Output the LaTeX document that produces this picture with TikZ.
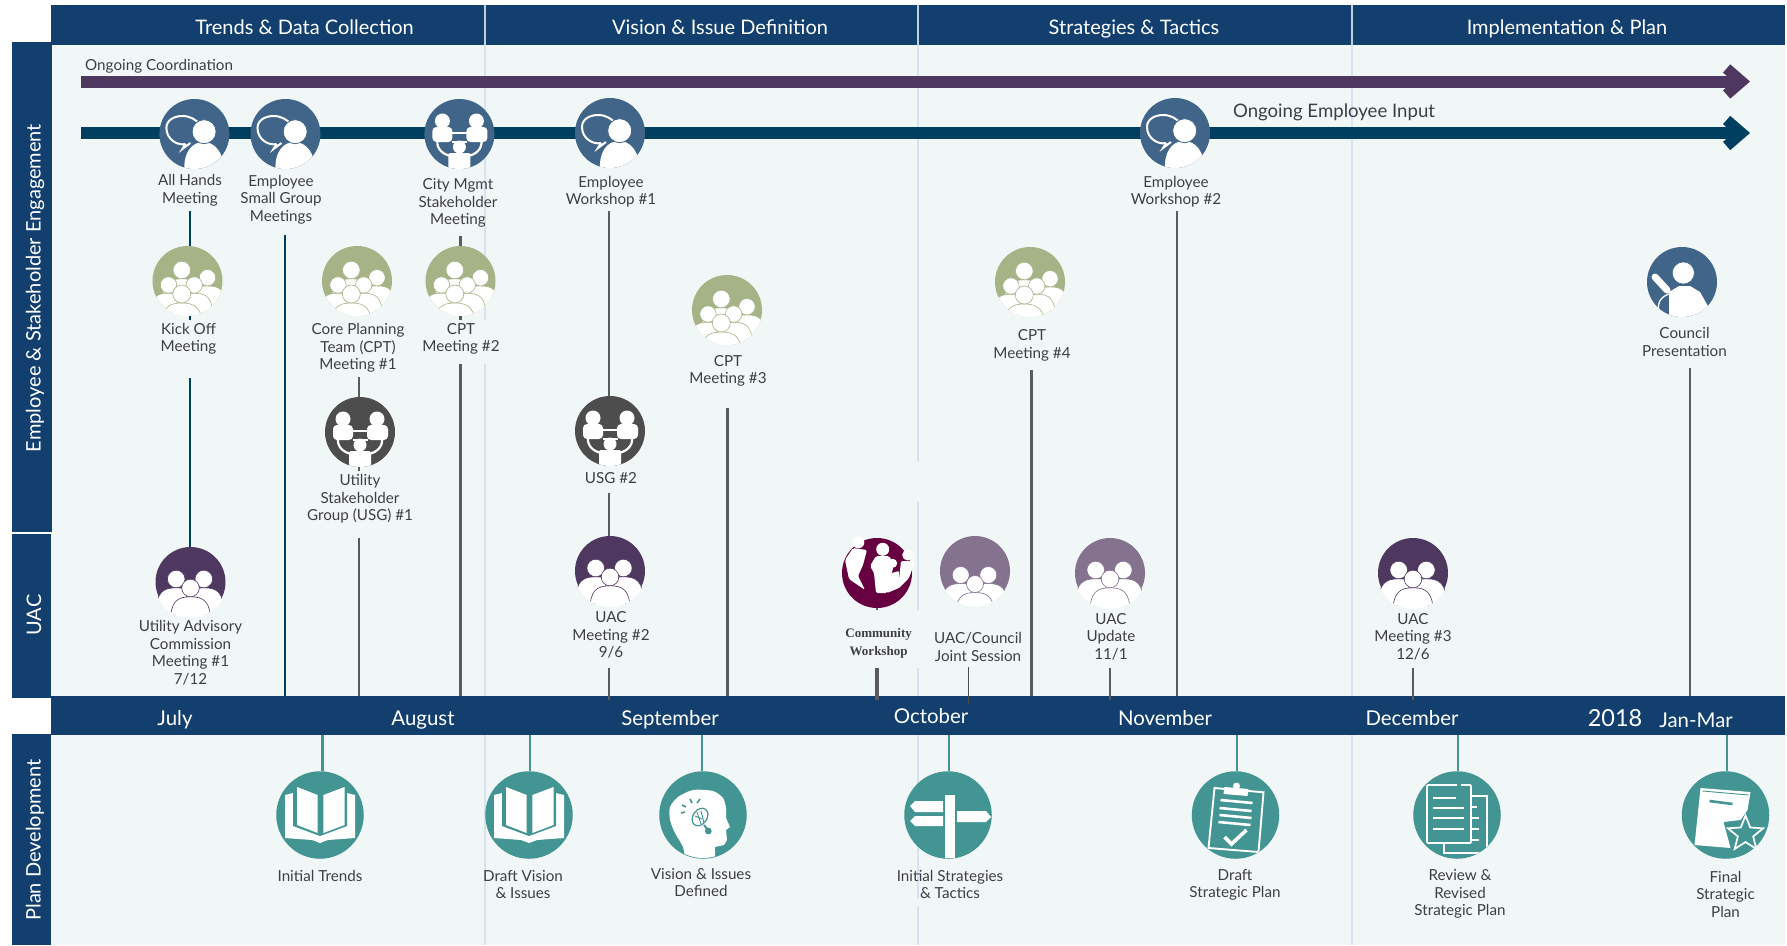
\documentclass[tikz,border=0pt]{standalone}
\usepackage{fontspec}
\setmainfont{Lato}
\newfontfamily\serifb{Liberation Serif}
\usetikzlibrary{shapes.geometric,arrows.meta,calc}
\definecolor{navy}{HTML}{123F6D}
\definecolor{bgc}{HTML}{F1F7F7}
\definecolor{purp}{HTML}{4F3860}
\definecolor{dblue}{HTML}{003F5F}
\definecolor{cblue}{HTML}{406589}
\definecolor{cgreen}{HTML}{A6B387}
\definecolor{cgray}{HTML}{4D4D4D}
\definecolor{lpurp}{HTML}{84728F}
\definecolor{tealc}{HTML}{429592}
\definecolor{maroon}{HTML}{660040}
\definecolor{txt}{HTML}{3E3E46}
\definecolor{divc}{HTML}{D5E4EE}
\tikzset{
  dot/.style={circle,inner sep=0pt,minimum size=#1,draw=none},
  lbl/.style={align=center,text=txt,inner sep=0pt,font=\fontsize{15.2}{17.5}\selectfont},
  wtitle/.style={text=white,inner sep=0pt,font=\fontsize{20}{23}\selectfont},
  month/.style={text=white,inner sep=0pt,anchor=base,font=\fontsize{20.4}{23}\selectfont},
  band/.style={fill=navy,inner sep=0pt,draw=none},
  divl/.style={draw=divc,line width=1.4pt},
  lnkb/.style={draw=dblue,line width=2.6pt},
  lnkg/.style={draw=cgray!92!white,line width=2.6pt},
  lnkt/.style={draw=tealc,line width=2.8pt},
  bigarrow/.style={line width=12pt,-{Straight Barb[length=15pt,width=26pt,line width=11pt]}},
  ic/.style={fill=white,draw=none},
  icl/.style={draw=white,line width=1.8pt,fill=none},
}
% person: x y headradius colour
\newcommand\pers[4]{%
  \path[fill=white,draw=#4,line width=.6pt] ({#1-2.3*#3},{#2+4*#3}) .. controls ({#1-2.3*#3},{#2+1.5*#3}) and ({#1-1.5*#3},{#2+1*#3}) .. ({#1},{#2+1*#3}) .. controls ({#1+1.5*#3},{#2+1*#3}) and ({#1+2.3*#3},{#2+1.5*#3}) .. ({#1+2.3*#3},{#2+4*#3}) -- cycle;
  \path[fill=white,draw=#4,line width=.6pt] (#1,#2) circle[radius=#3pt];
}
\newcommand\icGroup[2]{\begin{scope}[shift={(#1)}]
  \clip (0,0) circle[radius=35pt];
  \pers{-5.7}{-11}{8.8}{#2}\pers{20}{-3.3}{8.2}{#2}\pers{-19}{4}{8.2}{#2}\pers{6.7}{4}{8.2}{#2}\pers{-5.7}{13}{9}{#2}
\end{scope}}
\newcommand\icThree[2]{\begin{scope}[shift={(#1)}]
  \clip (0,0) circle[radius=36pt];
  \pers{-14.3}{-3}{8.8}{#2}\pers{13.3}{-3}{8.8}{#2}\pers{0}{6}{8.8}{#2}
\end{scope}}
\newcommand\icThreeLow[2]{\begin{scope}[shift={(#1)}]
  \clip (0,0) circle[radius=35.5pt];
  \pers{-14.3}{4}{8.5}{#2}\pers{13.3}{4}{8.5}{#2}\pers{0}{13}{8.5}{#2}
\end{scope}}
\newcommand\icSpeech[1]{\begin{scope}[shift={(#1)}]
  \clip (0,0) circle[radius=35pt];
  \draw[icl,line width=2pt] (-9,10) .. controls (-16,12) and (-28,6) .. (-28,-6) .. controls (-28,-14) and (-20,-18) .. (-12,-18) .. controls (-4,-18) and (2,-14) .. (5,-10);
  \draw[icl,line width=2pt] (-9,10) -- (-12,15) -- (-4,9);
  \path[ic] (-10,36) .. controls (-11,19) and (-3,8) .. (9,8) .. controls (21,8) and (29,19) .. (30,36) -- cycle;
  \path[fill=white,draw=cblue,line width=.8pt] (9.7,-2.3) circle[radius=12pt];
\end{scope}}
\newcommand\icTable[2]{\begin{scope}[shift={(#1)}]
  \clip (0,0) circle[radius=35pt];
  \draw[icl,line width=2.2pt] (-8,-1) -- (8,-1) (-7,8) -- (8,8);
  \draw[icl,line width=2.2pt] (-22,7) .. controls (-23,15) and (-16,21) .. (-8,22);
  \draw[icl,line width=2.2pt] (22,7) .. controls (23,15) and (16,21) .. (8,22);
  \path[ic,rounded corners=4pt] (-27,8) -- (-27,-7) -- (-7,-7) -- (-7,8) -- cycle;
  \path[ic,rounded corners=4pt] (7,8) -- (7,-7) -- (28,-7) -- (28,8) -- cycle;
  \path[ic,rounded corners=2pt] (-11,36) -- (-11,19) -- (11,19) -- (11,36) -- cycle;
  \path[ic] (-17,-13) circle[radius=7.5pt] (17,-13) circle[radius=7.5pt] (0,13) circle[radius=6.5pt];
\end{scope}}
\newcommand\icBook[1]{\begin{scope}[shift={(#1)}]
  \path[ic] (-35,-20) -- (-27,-22) -- (0,20) -- (27,-22) -- (35,-20) -- (35,23) -- (8,25) -- (0,28) -- (-8,25) -- (-35,23) -- cycle;
  \path[fill=tealc] (-27,-24) -- (0,-24) -- (27,-24) -- (27,11) -- (0,21) -- (-27,11) -- cycle;
  \path[ic] (-23,-28) -- (-2.3,-20) -- (-2.3,18) -- (-23,10) -- cycle;
  \path[ic] (24.5,-28) -- (3.4,-20) -- (3.4,18) -- (24.5,10) -- cycle;
\end{scope}}
\newcommand\icHead[1]{\begin{scope}[shift={(#1)}]
  \clip (0,0) circle[radius=43pt];
  \path[ic] plot[smooth,tension=.45] coordinates {(-18,44) (-20,32) (-28,18) (-33,5) (-33,-8) (-25,-18) (-10,-25) (10,-24) (20,-17) (23,-7) (23,3)} -- (27,12) -- (23,15) -- (24,25) -- (21,30) -- (12,32) -- (12,44) -- cycle;
  \draw[tealc,line width=1.2pt,rotate around={-35:(-3,2)}] (-3,2) ellipse[x radius=7pt,y radius=9.5pt];
  \draw[tealc,line width=.9pt] (-6,-3) -- (-2,9) (-2,-4) -- (1,8) (-8,1) -- (-1,4);
  \draw[tealc,line width=2pt] (1,10) -- (4,14);
  \fill[tealc] (5.3,16) circle[radius=3.4pt];
  \draw[tealc,line width=1.6pt] (-21,-10) -- (-17,-8) (-13,-16) -- (-11,-12) (-3,-16) -- (-6,-12) (-22,-2) -- (-18,-3);
\end{scope}}
\newcommand\icSign[1]{\begin{scope}[shift={(#1)}]
  \path[ic] (-3.3,43) -- (-3.3,-20) -- (7.3,-20) -- (7.3,43) -- cycle;
  \path[ic] (-38,-9) -- (-33,-14) -- (-5,-14) -- (-5,-3) -- (-33,-3) -- cycle;
  \path[ic] (-38,6) -- (-33,1) -- (-5,1) -- (-5,11) -- (-33,11) -- cycle;
  \path[ic] (9,-4) -- (38,-4) -- (43,2) -- (38,7) -- (9,7) -- cycle;
\end{scope}}
\newcommand\icClip[1]{\begin{scope}[shift={(#1)}]
  \clip (0,0) circle[radius=43.5pt];
  \draw[icl,line width=1.9pt] (-21,-27) -- (28,-22.7) -- (23,37) -- (-27,33) -- cycle;
  \path[ic] (-11,-28) -- (13,-26) -- (12,-19) -- (-12,-21) -- cycle;
  \path[ic] (1,-29) circle[radius=3.5pt];
  \draw[white,line width=2.6pt] (-15,-15) -- (17,-12) (-16,-7) -- (16,-4) (-16,0) -- (16,3) (-17,7) -- (15,10);
  \draw[white,line width=3.6pt] (-11,22) -- (-4,29) -- (11,15);
\end{scope}}
\newcommand\icDocs[1]{\begin{scope}[shift={(#1)}]
  \clip (0,0) circle[radius=43.5pt];
  \draw[icl] (14,-19) -- (30,-19) -- (30,38) -- (-13,38) -- (-13,28);
  \draw[icl] (14,-8) -- (20,-8) (14,3) -- (22,3) (14,14) -- (22,14) (14,25) -- (22,25);
  \draw[icl,rounded corners=1pt] (0,-30) -- (-30,-30) -- (-30,28) -- (14,28) -- (14,-30) -- (4,-30);
  \draw[white,line width=2.6pt] (-24,-17) -- (-1,-17) (-24,-7) -- (7,-7) (-24,3) -- (7,3) (-24,14) -- (7,14);
\end{scope}}
\newcommand\icFinal[1]{\begin{scope}[shift={(#1)}]
  \path[ic] (-25,-27) -- (25,-23) -- (22,-5) -- (15,5) -- (-2,7) -- (5,33) -- (-31,30) -- cycle;
  \draw[tealc,line width=.9pt] (-23,-24) -- (23,-20);
  \draw[tealc,line width=2.6pt] (-16,-14) -- (7,-11);
  \node[star,star points=5,star point ratio=2.3,minimum size=37pt,inner sep=0pt,draw=white,fill=tealc,line width=1.7pt] (finalstar) at (20,19) {};
\end{scope}}
\newcommand\icCouncil[1]{\begin{scope}[shift={(#1)}]
  \clip (0,0) circle[radius=35pt];
  \draw[white,line width=7pt,line cap=round] (-27,-5) -- (-15,8);
  \draw[white,line width=1.3pt] (-13,12) .. controls (-22,15) and (-26,22) .. (-22,32);
  \path[ic] (-13,36) -- (-13,10) -- (-3,4) -- (8,4) -- (18,10) -- (27,26) -- (20,36) -- cycle;
  \path[fill=white,draw=cblue,line width=.5pt] (1.3,-9) circle[radius=11pt];
\end{scope}}
\newcommand\icCommunity[1]{\begin{scope}[shift={(#1)}]
  \path[ic] (-18.7,-30.7) circle[radius=6pt] (5.7,-23.7) circle[radius=6.5pt] (15.7,-9.7) circle[radius=4.5pt] (30.7,-18) circle[radius=5.5pt];
  \path[ic,rounded corners=1.5pt] (-24,-25) -- (-10,-23) -- (-14,-8) -- (-19,3) -- (-12,17) -- (-28,6) -- (-32,-13) -- cycle;
  \path[ic,rounded corners=1.5pt] (-7,-7) -- (-1,-17) -- (12,-17) -- (17,-9) -- (10,20) -- (-1,20) -- (-3,0) -- cycle;
  \path[ic,rounded corners=1pt] (8,2) -- (22,-2) -- (22,15) -- (10,20) -- cycle;
  \path[ic,rounded corners=1.5pt] (24,-12) -- (38,-12) -- (32,5) -- (21,16) -- cycle;
\end{scope}}
\begin{document}
\begin{tikzpicture}[x=1pt,y=-1pt]
\useasboundingbox (0,0) rectangle (1787,945);
\fill[white] (0,0) rectangle (1787,945);
% panel
\fill[bgc] (51,45) rectangle (1785,945);
% dividers
\draw[divl] (485,45) -- (485,320) (485,364) -- (485,945);
\draw[divl] (918,45) -- (918,462) (918,502) -- (918,610) (918,668) -- (918,899) (918,906) -- (918,945);
\draw[divl] (1352,45) -- (1352,945);
% header band
\node[band,minimum width=1734pt,minimum height=40pt] (hdr) at (918,25) {};
\draw[white,opacity=.75,line width=1.2pt] (485,5) -- (485,45) (918,5) -- (918,45) (1352,5) -- (1352,45);
\node[wtitle,anchor=base] (h1) at (304.6,34.3) {Trends \& Data Collection};
\node[wtitle,anchor=base] (h2) at (720,34.3) {Vision \& Issue Definition};
\node[wtitle,anchor=base] (h3) at (1134,34.3) {Strategies \& Tactics};
\node[wtitle,anchor=base] (h4) at (1567,34.3) {Implementation \& Plan};
% side bands
\node[band,minimum width=40.5pt,minimum height=490pt] (s1) at (31.75,287) {};
\node[band,minimum width=39.5pt,minimum height=164pt] (s2) at (31.25,615.5) {};
\node[band,minimum width=39.5pt,minimum height=211pt] (s3) at (31.25,839.5) {};
\node[wtitle,rotate=90] (s1t) at (35,288) {Employee \& Stakeholder Engagement};
\node[wtitle,rotate=90] (s2t) at (34,615) {UAC};
\node[wtitle,rotate=90] (s3t) at (35,840) {Plan Development};
% months band
\node[band,minimum width=1734pt,minimum height=39pt] (mbar) at (918,715.5) {};
\node[month] (m1) at (175,725) {July};
\node[month] (m2) at (423,725) {August};
\node[month] (m3) at (670,725) {September};
\node[month] (m4) at (931,723.5) {October};
\node[month] (m5) at (1165,725) {November};
\node[month] (m6) at (1412,725.5) {December};
\node[month,font=\fontsize{23.5}{26}\selectfont] (m7) at (1615,726.7) {2018};
\node[month] (m8) at (1696,727.7) {Jan-Mar};
% long arrows
\coordinate (ca) at (81,81.5); \coordinate (cb) at (1750,81.5);
\coordinate (ea) at (81,133); \coordinate (eb) at (1750,133);
\draw[purp,bigarrow] (ca) -- (cb);
\draw[dblue,bigarrow] (ea) -- (eb);
\node[lbl,anchor=west] (oc) at (85,66) {Ongoing Coordination};
\node[lbl,font=\fontsize{18.6}{21}\selectfont] (oe) at (1334,112.5) {Ongoing Employee Input};
% circles
\tikzset{r35/.style={dot=70pt},r43/.style={dot=87.5pt}}
\node[r35,fill=cblue] (ah) at (194.4,134) {};
\node[r35,fill=cblue] (es) at (285.5,134) {};
\node[r35,fill=cblue] (cm) at (459.4,134) {};
\node[r35,fill=cblue] (ew1) at (610,133) {};
\node[r35,fill=cblue] (ew2) at (1175,133) {};
\node[r35,fill=cgreen] (ko) at (187.5,281) {};
\node[r35,fill=cgreen] (cpt1) at (357,281) {};
\node[r35,fill=cgreen] (cpt2) at (460.5,281) {};
\node[r35,fill=cgreen] (cpt3) at (727,310) {};
\node[r35,fill=cgreen] (cpt4) at (1030,282) {};
\node[r35,fill=cblue] (cp) at (1682,282) {};
\node[r35,fill=cgray] (usg1) at (360,432) {};
\node[r35,fill=cgray] (usg2) at (610,431) {};
\node[r35,fill=purp] (uac1) at (190.5,582) {};
\node[r35,fill=purp] (uac2) at (610,571) {};
\node[r35,fill=purp] (uac3) at (1413,573) {};
\node[r35,fill=maroon] (cw) at (877,573) {};
\node[r35,fill=lpurp] (jt) at (975,571) {};
\node[r35,fill=lpurp] (up) at (1110,573) {};
\node[r43,fill=tealc] (p1) at (320,815) {};
\node[r43,fill=tealc] (p2) at (529,815) {};
\node[r43,fill=tealc] (p3) at (703,815) {};
\node[r43,fill=tealc] (p4) at (948,815) {};
\node[r43,fill=tealc] (p5) at (1235.5,815) {};
\node[r43,fill=tealc] (p6) at (1457,815) {};
\node[r43,fill=tealc] (p7) at (1725.5,815) {};
% icons
\icSpeech{194.4,134}\icSpeech{285.5,134}\icSpeech{610,133}\icSpeech{1175,133}
\icTable{459.4,134}{cblue}\icTable{360,432}{cgray}\icTable{610,431}{cgray}
\icGroup{187.5,281}{cgreen}\icGroup{357,281}{cgreen}\icGroup{460.5,281}{cgreen}\icGroup{727,310}{cgreen}\icGroup{1030,282}{cgreen}
\icThree{190.5,582}{purp}\icThree{610,571}{purp}\icThree{1413,573}{purp}
\icThreeLow{975,571}{lpurp}\icThree{1110,573}{lpurp}
\icCouncil{1682,282}\icCommunity{877,573}
\icBook{320,815}\icBook{529,815}\icHead{703,815}\icSign{948,815}\icClip{1235.5,815}\icDocs{1457,815}\icFinal{1725.5,815}
% connectors: navy
\coordinate (k1) at (190,211); \draw[lnkb] (k1) -- (k1 |- ko.north);
\coordinate (k2) at (190,320); \draw[lnkb] (k2 |- ko.south) -- (k2);
\coordinate (k3) at (190,378); \draw[lnkb] (k3) -- (k3 |- uac1.north);
\coordinate (k4) at (285,235); \draw[lnkb] (k4) -- (k4 |- mbar.north);
% connectors: grey
\coordinate (g1) at (359,377); \draw[lnkg] (g1) -- (g1 |- usg1.north);
\coordinate (g2) at (359,471); \draw[lnkg] (g2 |- usg1.south) -- (g2);
\coordinate (g3) at (359,537.5); \draw[lnkg] (g3) -- (g3 |- mbar.north);
\coordinate (g4) at (460.5,236); \draw[lnkg] (g4) -- (g4 |- cpt2.north);
\coordinate (g5) at (460.5,320); \draw[lnkg] (g5 |- cpt2.south) -- (g5);
\coordinate (g6) at (460.5,364); \draw[lnkg] (g6) -- (g6 |- mbar.north);
\coordinate (g7) at (609,211); \draw[lnkg] (g7) -- (g7 |- usg2.north);
\coordinate (g8) at (609,493); \draw[lnkg] (g8) -- (g8 |- uac2.north);
\coordinate (g9) at (609,668); \coordinate (g9e) at (609,700); \draw[lnkg] (g9) -- (g9e);
\coordinate (g10) at (727.5,408); \draw[lnkg] (g10) -- (g10 |- mbar.north);
\coordinate (g11) at (877,668); \coordinate (g11e) at (877,700); \draw[lnkg,line width=4pt] (g11) -- (g11e);
\coordinate (g11b) at (877,610); \draw[lnkg] (g11b |- cw.south) -- (g11b);
\coordinate (g12) at (968.5,667); \coordinate (g12e) at (968.5,704); \draw[lnkg,line width=1.4pt,draw=cgray] (g12) -- (g12e);
\coordinate (g13) at (1031.3,370); \draw[lnkg] (g13) -- (g13 |- mbar.north);
\coordinate (g14) at (1110,668); \coordinate (g14e) at (1110,700); \draw[lnkg] (g14) -- (g14e);
\coordinate (g15) at (1177,211); \draw[lnkg] (g15) -- (g15 |- mbar.north);
\coordinate (g16) at (1413,668); \coordinate (g16e) at (1413,700); \draw[lnkg] (g16) -- (g16e);
\coordinate (g17) at (1690,368); \draw[lnkg] (g17) -- (g17 |- mbar.north);
% connectors: teal
\coordinate (t1) at (322.6,735); \draw[lnkt] (t1) -- (t1 |- p1.north);
\coordinate (t2) at (530,735); \draw[lnkt] (t2) -- (t2 |- p2.north);
\coordinate (t3) at (702,735); \draw[lnkt] (t3) -- (t3 |- p3.north);
\coordinate (t4) at (949,735); \draw[lnkt] (t4) -- (t4 |- p4.north);
\coordinate (t5) at (1237,735); \draw[lnkt] (t5) -- (t5 |- p5.north);
\coordinate (t6) at (1458,735); \draw[lnkt] (t6) -- (t6 |- p6.north);
\coordinate (t7) at (1727,735); \draw[lnkt] (t7) -- (t7 |- p7.north);
% labels
\node[lbl] (l1) at (190,190.5) {All Hands\\Meeting};
\node[lbl] (l2) at (281,199.5) {Employee\\Small Group\\Meetings};
\node[lbl] (l3) at (458,203) {City Mgmt\\Stakeholder\\Meeting};
\node[lbl] (l4) at (188.5,339) {Kick Off\\Meeting};
\node[lbl] (l5) at (358,348) {Core Planning\\Team (CPT)\\Meeting \#1};
\node[lbl] (l6) at (461,339) {CPT\\Meeting \#2};
\node[lbl] (l7) at (360,499) {Utility\\Stakeholder\\Group (USG) \#1};
\node[lbl] (l8) at (190.5,652.5) {Utility Advisory\\Commission\\Meeting \#1\\7/12};
\node[lbl] (l9) at (611,191.5) {Employee\\Workshop \#1};
\node[lbl] (l10) at (611,478) {USG \#2};
\node[lbl] (l11) at (611,635) {UAC\\Meeting \#2\\9/6};
\node[lbl] (l12) at (728,371) {CPT\\Meeting \#3};
\node[lbl,font=\serifb\bfseries\fontsize{13}{18}\selectfont] (l13) at (878.6,643.5) {Community\\Workshop};
\node[lbl] (l14) at (978,647) {UAC/Council\\Joint Session};
\node[lbl] (l15) at (1111,636.5) {UAC\\Update\\11/1};
\node[lbl] (l16) at (1032,345.5) {CPT\\Meeting \#4};
\node[lbl] (l17) at (1176,191.5) {Employee\\Workshop \#2};
\node[lbl] (l18) at (1413,636.5) {UAC\\Meeting \#3\\12/6};
\node[lbl] (l19) at (1684.5,342) {Council\\Presentation};
\node[lbl] (l20) at (320,876) {Initial Trends};
\node[lbl] (l21) at (523,884.5) {Draft Vision\\\& Issues};
\node[lbl] (l22) at (701,882.5) {Vision \& Issues\\Defined};
\node[lbl] (l23) at (950,884.5) {Initial Strategies\\\& Tactics};
\node[lbl] (l24) at (1235,885) {Draft\\Strategic Plan};
\node[lbl] (l25) at (1460,894) {Review \&\\Revised\\Strategic Plan};
\node[lbl] (l26) at (1725.5,894) {Final\\Strategic\\Plan};
\end{tikzpicture}
\end{document}
